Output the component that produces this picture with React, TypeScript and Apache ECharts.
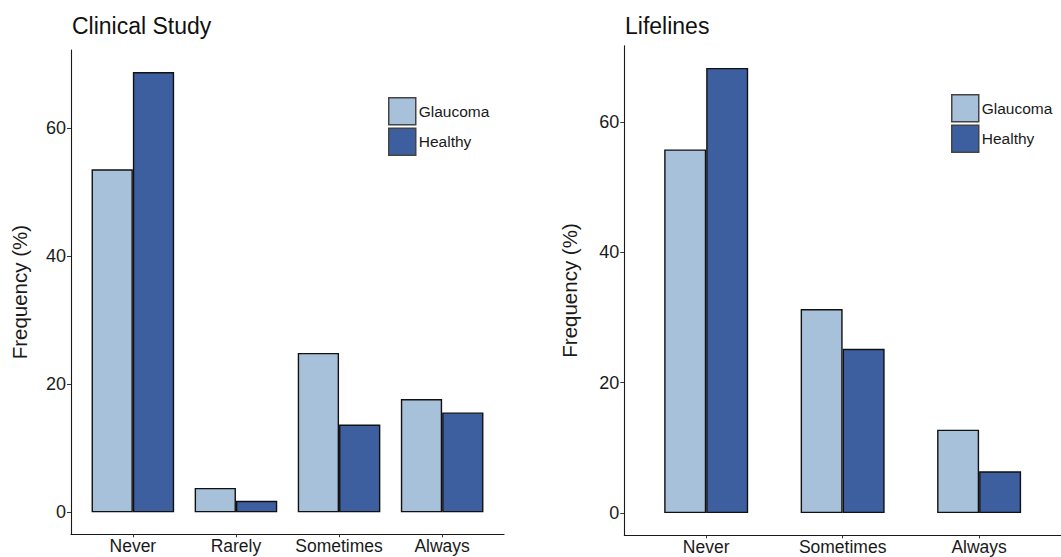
import React, { useEffect, useRef } from "react";
import * as echarts from "echarts";

const clinicalCategories = ["Never", "Rarely", "Sometimes", "Always"];
const clinicalGlaucoma = [53.6, 3.8, 24.9, 17.7];
const clinicalHealthy = [68.8, 1.8, 13.7, 15.6];

const lifelinesCategories = ["Never", "Sometimes", "Always"];
const lifelinesGlaucoma = [55.8, 31.3, 12.8];
const lifelinesHealthy = [68.3, 25.2, 6.4];

const yTicks = [0, 20, 40, 60];
const groupNames = ["Glaucoma", "Healthy"];

const LIGHT = "#a8c1db";
const DARK = "#3e5f9f";
const FONT = "'Liberation Sans', Arial, Helvetica, sans-serif";

function toPoints(vals: number[]) {
  return vals.map((v, i) => [i + 1, v]);
}

export default function App() {
  const ref = useRef<HTMLDivElement>(null);
  useEffect(() => {
    if (!ref.current) return;
    const chart = echarts.init(ref.current, null, { renderer: "svg" });

    const panels = [
      {
        cats: clinicalCategories,
        g: clinicalGlaucoma,
        h: clinicalHealthy,
        grid: { left: 71, right: 557, top: 50, bottom: 22.7 },
        barWidth: 41.3,
        yMax: 68.8,
        title: "Clinical Study",
        titleLeft: 72,
        legendLeft: 383,
        legendTop: 92,
        nameGap: 41,
      },
      {
        cats: lifelinesCategories,
        g: lifelinesGlaucoma,
        h: lifelinesHealthy,
        grid: { left: 624.3, right: -10, top: 45.7, bottom: 21.7 },
        barWidth: 42,
        yMax: 68.3,
        title: "Lifelines",
        titleLeft: 625,
        legendLeft: 946,
        legendTop: 89,
        nameGap: 44,
      },
    ];

    const grids: any[] = [];
    const xAxes: any[] = [];
    const yAxes: any[] = [];
    const series: any[] = [];
    const titles: any[] = [];
    const legends: any[] = [];

    panels.forEach((p, idx) => {
      grids.push({ ...p.grid, containLabel: false });
      const n = p.cats.length;
      const xCustom = p.cats.map((_, i) => i + 1);
      xAxes.push({
        type: "value",
        gridIndex: idx,
        min: 0.4,
        max: n + 0.6,
        axisLine: { show: true, onZero: false, lineStyle: { color: "#1a1a1a", width: 1.1 } },
        axisTick: { show: true, length: 3, customValues: xCustom, lineStyle: { color: "#333", width: 1 } },
        axisLabel: {
          show: true,
          customValues: xCustom,
          formatter: (v: number) => p.cats[Math.round(v) - 1] ?? "",
          color: "#1a1a1a",
          fontSize: 17.5,
          fontFamily: FONT,
          margin: 3,
        },
        splitLine: { show: false },
      });
      const pad = p.yMax * 0.05;
      yAxes.push({
        type: "value",
        gridIndex: idx,
        min: -pad,
        max: p.yMax + pad,
        name: "Frequency (%)",
        nameLocation: "middle",
        nameRotate: 90,
        nameGap: p.nameGap,
        nameTextStyle: { fontSize: 20.5, color: "#1a1a1a", fontFamily: FONT },
        axisLine: { show: true, onZero: false, lineStyle: { color: "#1a1a1a", width: 1.1 } },
        axisTick: { show: true, length: 4, customValues: yTicks, lineStyle: { color: "#333", width: 1 } },
        axisLabel: {
          show: true,
          customValues: yTicks,
          color: "#1a1a1a",
          fontSize: 18,
          fontFamily: FONT,
          margin: 5,
        },
        splitLine: { show: false },
      });
      const common = {
        type: "bar",
        xAxisIndex: idx,
        yAxisIndex: idx,
        barWidth: p.barWidth,
        barGap: "0%",
      };
      series.push({
        ...common,
        name: groupNames[0],
        data: toPoints(p.g),
        itemStyle: { color: LIGHT, borderColor: "#111", borderWidth: 1.4 },
      });
      series.push({
        ...common,
        name: groupNames[1],
        data: toPoints(p.h),
        itemStyle: { color: DARK, borderColor: "#111", borderWidth: 1.4 },
      });
      titles.push({
        text: p.title,
        left: p.titleLeft - 5,
        top: 9,
        textStyle: { fontSize: 23, fontWeight: "normal", color: "#111", fontFamily: FONT },
      });
      legends.push({
        data: groupNames.map((nm, i) => ({
          name: nm,
          itemStyle: { color: i === 0 ? LIGHT : DARK, borderColor: "#444", borderWidth: 1.5 },
        })),
        orient: "vertical",
        left: p.legendLeft,
        top: p.legendTop,
        itemWidth: 27,
        itemHeight: 27,
        itemGap: 2,
        icon: "rect",
        selectedMode: false,
        textStyle: { fontSize: 15.5, color: "#1a1a1a", fontFamily: FONT, padding: [0, 0, 0, -2] },
      });
    });

    chart.setOption({
      animation: false,
      backgroundColor: "#ffffff",
      title: titles,
      legend: legends,
      grid: grids,
      xAxis: xAxes,
      yAxis: yAxes,
      series,
    });
    return () => chart.dispose();
  }, []);

  return (
    <div
      ref={ref}
      style={{ position: "fixed", left: 0, top: 0, width: 1061, height: 557, background: "#fff" }}
    />
  );
}
